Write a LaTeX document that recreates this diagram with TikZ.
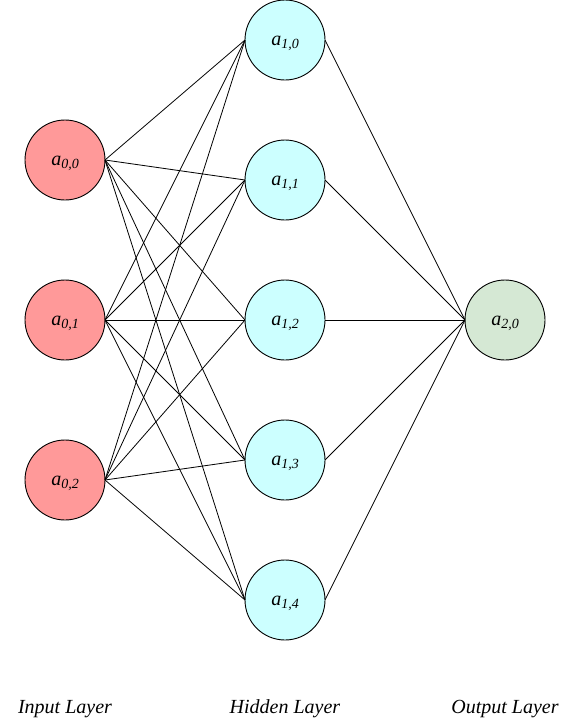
\documentclass[tikz,border=0pt]{standalone}
\usepackage{fontspec}
\setmainfont{Liberation Serif}
\begin{document}
\begin{tikzpicture}[x=1pt,y=-1pt,
  neuron/.style={circle,draw=black,line width=0.9pt,minimum size=80pt,inner sep=0pt,outer sep=0pt},
  inp/.style={neuron,fill={rgb,255:red,255;green,153;blue,153}},
  hid/.style={neuron,fill={rgb,255:red,204;green,255;blue,255}},
  outp/.style={neuron,fill={rgb,255:red,213;green,232;blue,212}},
  lbl/.style={anchor=base,inner sep=0pt,font=\fontsize{20}{22}\selectfont\itshape},
  layerlbl/.style={anchor=base,inner sep=0pt,font=\fontsize{20}{22}\selectfont\itshape},
  conn/.style={line width=0.8pt,draw=black}]
\useasboundingbox (0,0) rectangle (571,721);
\newcommand{\nlab}[1]{a\raisebox{-3.5pt}{\fontsize{14}{15}\selectfont #1}}
% input layer
\foreach \i/\y in {0/160,1/320,2/480}{
  \node[inp] (i\i) at (65,\y) {};
  \node[lbl] (li\i) at (65,\y+5) {\nlab{0,\i}};
}
% hidden layer
\foreach \j/\y in {0/40,1/180,2/320,3/460,4/600}{
  \node[hid] (h\j) at (285,\y) {};
  \node[lbl] (lh\j) at (285,\y+5) {\nlab{1,\j}};
}
% output
\node[outp] (o0) at (505,320) {};
\node[lbl] (lo0) at (505,325) {\nlab{2,0}};
% connections
\foreach \i in {0,1,2}{
  \foreach \j in {0,1,2,3,4}{
    \draw[conn] (i\i.east) -- (h\j.west);
  }
}
\foreach \j in {0,1,2,3,4}{
  \draw[conn] (h\j.east) -- (o0.west);
}
% layer labels
\node[layerlbl] (tin) at (65,713) {Input Layer};
\node[layerlbl] (thid) at (285,713) {Hidden Layer};
\node[layerlbl] (tout) at (505,713) {Output Layer};
\end{tikzpicture}
\end{document}
